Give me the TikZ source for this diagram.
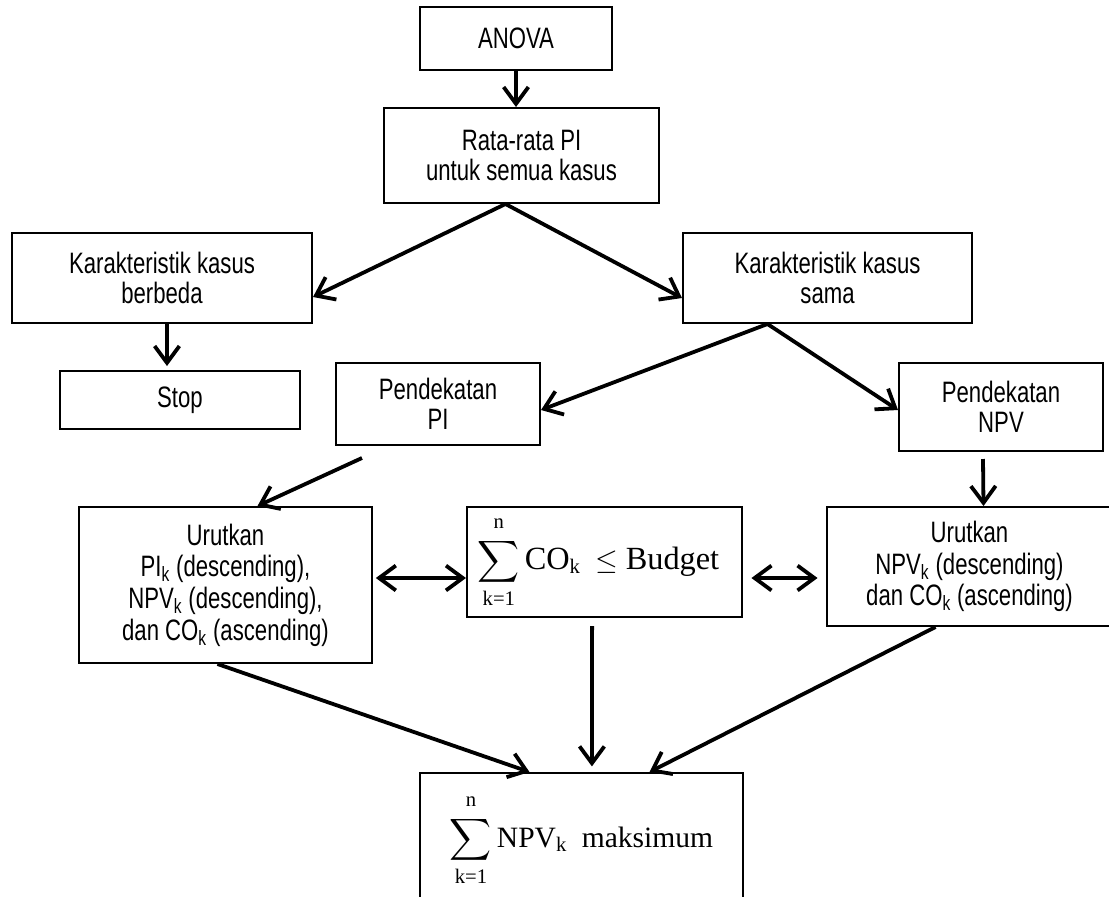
\documentclass[tikz,border=0pt]{standalone}
\usepackage{amsmath}
\usepackage{fontspec}
\setmainfont{Liberation Sans}[FakeStretch=0.75]
\newfontfamily\tnr{Liberation Serif}
\usetikzlibrary{arrows.meta}
\newcommand{\subk}{\textsubscript{k}}
\newcommand{\upn}{\text{\raisebox{3pt}{\tnr n}}}
\newcommand{\lowk}{\text{\raisebox{-2pt}{\tnr k=1}}}

\tikzset{
  box/.style={draw, line width=1.4pt, align=center, inner sep=2pt,
    font=\fontsize{21}{21.5}\selectfont},
  mathbox/.style={box, font=\fontsize{21}{25}\selectfont},
  arr/.style={line width=2.7pt, -{Straight Barb[length=0.42cm,width=0.62cm,line width=2.7pt]}},
  dbl/.style={line width=2.7pt, {Straight Barb[length=0.42cm,width=0.62cm,line width=2.7pt]}-{Straight Barb[length=0.42cm,width=0.62cm,line width=2.7pt]}}
}

\begin{document}
\begin{tikzpicture}[x=0.025cm,y=-0.025cm]
  \path[use as bounding box, clip] (0,0) rectangle (1109,896);
  \node[box, minimum width=4.8cm, minimum height=1.575cm] (anova) at (516,38.5) {ANOVA};
  \node[box, minimum width=6.875cm, minimum height=2.375cm] (rata) at (521.5,155.5) {Rata-rata PI\\untuk semua kasus};
  \node[box, minimum width=7.5cm, minimum height=2.25cm] (beda) at (162,278) {Karakteristik kasus\\berbeda};
  \node[box, minimum width=7.225cm, minimum height=2.25cm] (sama) at (827.5,278) {Karakteristik kasus\\sama};
  \node[box, minimum width=6cm, minimum height=1.45cm] (stop) at (180,400) {Stop};
  \node[box, minimum width=5.1cm, minimum height=2.05cm] (pdkpi) at (438,404) {Pendekatan\\PI};
  \node[box, minimum width=5.1cm, minimum height=2.2cm] (pdknpv) at (1001,407) {Pendekatan\\NPV};
  \node[box, font=\fontsize{21}{22.5}\selectfont, minimum width=7.325cm, minimum height=3.9cm] (urutpi) at (225.5,585)
    {Urutkan\\PI\subk{} (descending),\\NPV\subk{} (descending),\\dan CO\subk{} (ascending)};
  \node[mathbox, minimum width=6.875cm, minimum height=2.75cm] (budget) at (604.5,562)
    {$\displaystyle\sum_{\lowk}^{\upn}\text{\fontsize{23}{27}\tnr CO}_{\text{\tnr k}}\ \leq\text{\fontsize{23}{27}\tnr Budget}$\hspace*{0.3cm}};
  \node[box, font=\fontsize{21}{22.5}\selectfont, minimum width=7.125cm, minimum height=2.975cm] (urutnpv) at (969.5,566.5)
    {Urutkan\\NPV\subk{} (descending)\\dan CO\subk{} (ascending)};
  \node[mathbox, minimum width=8.075cm, minimum height=3.35cm] (npvmax) at (581.5,840)
    {$\displaystyle\sum_{\lowk}^{\upn}\text{\tnr NPV}_{\text{\tnr k}}\text{\tnr\ \ maksimum}$};

  \draw[arr] (anova.south) -- (anova.south |- rata.north);
  \draw[arr] ([xshift=-0.4cm]rata.south) -- ([yshift=-0.475cm]beda.east);
  \draw[arr] ([xshift=-0.4cm]rata.south) -- ([yshift=-0.5cm]sama.west);
  \draw[arr] ([xshift=0.125cm]beda.south) -- ([xshift=-0.325cm,yshift=0.1cm]stop.north);
  \draw[arr] ([xshift=-1.5cm]sama.south) -- ([yshift=-0.15cm]pdkpi.east);
  \draw[arr] ([xshift=-1.5cm]sama.south) -- ([yshift=-0.075cm]pdknpv.west);
  \draw[arr] ([xshift=-1.9cm,yshift=-0.3cm]pdkpi.south) -- ([xshift=0.8cm]urutpi.north);
  \draw[arr] ([xshift=-0.45cm,yshift=-0.175cm]pdknpv.south) -- ([xshift=0.35cm]urutnpv.north);
  \draw[dbl, shorten <=2pt] ([yshift=0.175cm]urutpi.east) -- ([yshift=-0.4cm]budget.west);
  \draw[dbl, shorten <=6pt, shorten >=6pt] ([yshift=-0.4cm]budget.east) -- ([yshift=-0.2875cm]urutnpv.west);
  \draw[arr] ([xshift=-0.2cm]urutpi.south) -- ([xshift=-1.3cm]npvmax.north);
  \draw[arr, shorten >=4pt] ([xshift=-0.31cm,yshift=-0.2cm]budget.south) -- ([xshift=0.26cm]npvmax.north);
  \draw[arr] ([xshift=-0.85cm]urutnpv.south) -- ([xshift=1.7cm]npvmax.north);
\end{tikzpicture}
\end{document}
